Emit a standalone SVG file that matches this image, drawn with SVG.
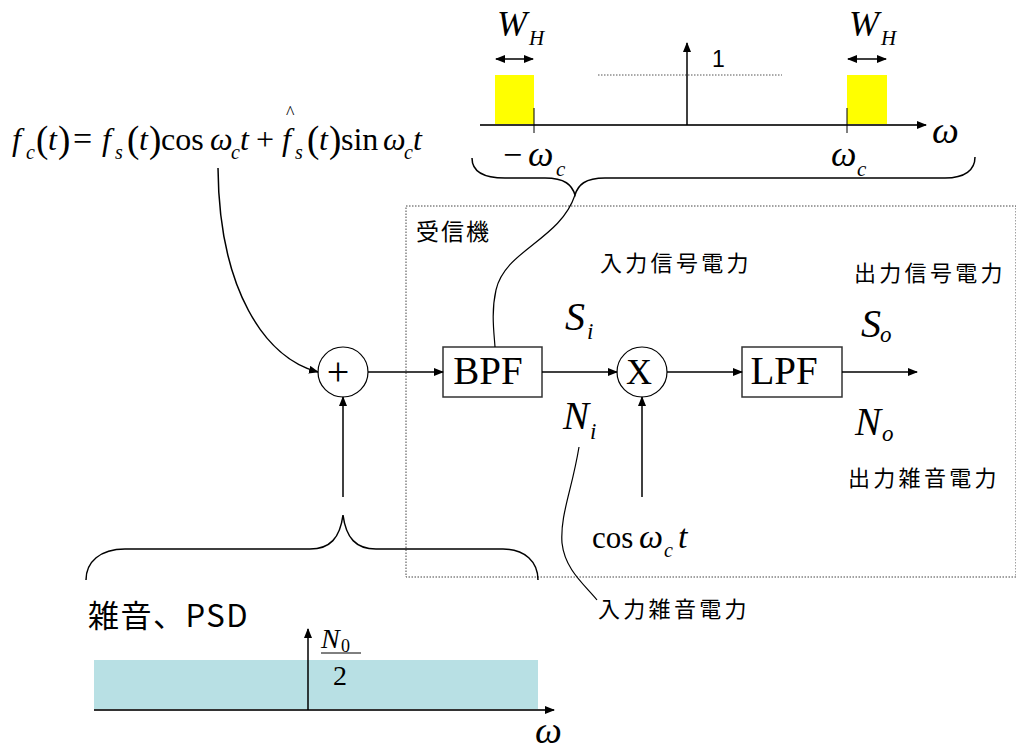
<svg xmlns="http://www.w3.org/2000/svg" width="1016" height="749" viewBox="0 0 1016 749">
<defs>
<marker id="ah" markerWidth="10" markerHeight="8" refX="9" refY="4" orient="auto" markerUnits="userSpaceOnUse">
<path d="M0,0 L10,4 L0,8 Z" fill="#000"/>
</marker>
<marker id="ahs" markerWidth="10" markerHeight="8" refX="1" refY="4" orient="auto" markerUnits="userSpaceOnUse">
<path d="M10,0 L0,4 L10,8 Z" fill="#000"/>
</marker>
<style>
.ln{stroke:#000;stroke-width:1.5;fill:none}
.ax{stroke:#333;stroke-width:2;fill:none}
.box{fill:#fff;stroke:#333;stroke-width:1.5}
.m{font-family:"Liberation Serif","Times New Roman",serif;fill:#000}
.i{font-style:italic}
.j{font-family:"Noto Sans CJK JP","Noto Sans",sans-serif;fill:#000}
.s{font-family:"Liberation Sans",Arial,sans-serif;fill:#000}
</style>
</defs>
<rect width="1016" height="749" fill="#fff"/>

<!-- receiver dashed frame -->
<g id="receiver">
<rect x="406" y="206" width="610" height="371" fill="none" stroke="#444" stroke-width="1" stroke-dasharray="1.5,1.5"/>
<text class="j" x="416" y="240" font-size="23" letter-spacing="2">受信機</text>
</g>

<!-- top spectrum -->
<g id="bpf-spectrum">
<rect x="495" y="75" width="39" height="50" fill="#FFFF00"/>
<rect x="847" y="75" width="40" height="50" fill="#FFFF00"/>
<line x1="598" y1="75" x2="782" y2="75" stroke="#555" stroke-width="1" stroke-dasharray="1.5,1.5"/>
<line class="ax" x1="480" y1="125" x2="926" y2="125" marker-end="url(#ah)"/>
<line class="ln" x1="687" y1="125" x2="687" y2="43" marker-end="url(#ah)"/>
<line x1="534" y1="108" x2="534" y2="133" stroke="#000" stroke-width="1"/>
<line x1="847" y1="108" x2="847" y2="133" stroke="#000" stroke-width="1"/>
<line class="ln" x1="496" y1="59" x2="533" y2="59" marker-start="url(#ahs)" marker-end="url(#ah)"/>
<line class="ln" x1="848" y1="59" x2="886" y2="59" marker-start="url(#ahs)" marker-end="url(#ah)"/>
<text class="m i" x="497" y="36" font-size="36">W</text>
<text class="m i" x="529" y="45" font-size="21">H</text>
<text class="m i" x="849" y="36" font-size="36">W</text>
<text class="m i" x="881" y="45" font-size="21">H</text>
<text class="s" x="712" y="67" font-size="23">1</text>
<text class="m" x="503" y="166" font-size="34">−</text>
<text class="m i" x="528" y="166" font-size="36">ω</text>
<text class="m i" x="556" y="176" font-size="21">c</text>
<text class="m i" x="831" y="166" font-size="36">ω</text>
<text class="m i" x="857" y="176" font-size="21">c</text>
<text class="m i" x="932" y="143" font-size="38">ω</text>
<path class="ln" d="M472,158 C472,172 485,178 505,178 L545,178 C565,178 572,185 575,195 C578,185 585,178 605,178 L945,178 C965,178 975,170 975,157"/>
</g>

<!-- formula -->
<g id="formula">
<text class="m" y="150" font-size="32"><tspan class="i" x="12">f</tspan><tspan x="102" class="i">f</tspan><tspan x="161">cos</tspan><tspan class="i" x="210">ω</tspan><tspan class="i" x="240">t</tspan><tspan x="256">+</tspan><tspan class="i" x="282">f</tspan><tspan x="341">sin</tspan><tspan class="i" x="383">ω</tspan><tspan class="i" x="413">t</tspan></text>
<text class="m" y="152" font-size="37"><tspan x="36">(</tspan><tspan x="58">)</tspan><tspan x="127">(</tspan><tspan x="149">)</tspan><tspan x="307">(</tspan><tspan x="329">)</tspan></text>
<text class="m i" y="150" font-size="32"><tspan x="48">t</tspan><tspan x="139">t</tspan><tspan x="319">t</tspan></text>
<text class="m" x="73" y="150" font-size="34">=</text>
<text class="m i" y="159" font-size="20"><tspan x="26">c</tspan><tspan x="115">s</tspan><tspan x="231">c</tspan><tspan x="295">s</tspan><tspan x="404">c</tspan></text>
<text class="m" x="286" y="119" font-size="18">^</text>
</g>

<!-- nodes -->
<g id="sum">
<circle cx="343" cy="372" r="25" fill="#fff" stroke="#000" stroke-width="1.2"/>
<text class="m" x="338" y="385" font-size="40" text-anchor="middle">+</text>
</g>
<g id="bpf">
<rect class="box" x="443" y="347" width="99" height="50"/>
<text class="m" x="488" y="384" font-size="39" text-anchor="middle">BPF</text>
</g>
<g id="mixer">
<circle cx="642" cy="372" r="25" fill="#fff" stroke="#000" stroke-width="1.2"/>
<text class="m" x="639" y="384" font-size="36" text-anchor="middle">X</text>
</g>
<g id="lpf">
<rect class="box" x="742" y="347" width="100" height="50"/>
<text class="m" x="784" y="384" font-size="39" text-anchor="middle">LPF</text>
</g>

<!-- connectors -->
<g id="connectors">
<line class="ln" x1="368" y1="372" x2="443" y2="372" marker-end="url(#ah)"/>
<line class="ln" x1="542" y1="372" x2="617" y2="372" marker-end="url(#ah)"/>
<line class="ln" x1="667" y1="372" x2="742" y2="372" marker-end="url(#ah)"/>
<line class="ln" x1="842" y1="372" x2="917" y2="372" marker-end="url(#ah)"/>
<line class="ln" x1="343" y1="497" x2="343" y2="397" marker-end="url(#ah)"/>
<line class="ln" x1="642" y1="497" x2="642" y2="397" marker-end="url(#ah)"/>
<path class="ln" d="M218,168 C219,290 265,358 318,372" marker-end="url(#ah)"/>
<path d="M575,195 C560,240 505,250 496,290 C491,312 494,332 495,347" fill="none" stroke="#000" stroke-width="1.2"/>
<path d="M579,447 C572,490 560,515 562,543 C565,570 585,585 597,600" fill="none" stroke="#000" stroke-width="1.2"/>
</g>

<!-- labels -->
<g id="labels">
<text class="j" x="600" y="271" font-size="22" letter-spacing="3.3">入力信号電力</text>
<text class="j" x="854" y="281" font-size="22" letter-spacing="3.3">出力信号電力</text>
<text class="j" x="848" y="486" font-size="22" letter-spacing="3.3">出力雑音電力</text>
<text class="j" x="598" y="617" font-size="22" letter-spacing="3.3">入力雑音電力</text>
<text class="m i" x="565" y="330" font-size="40">S</text>
<text class="m i" x="587" y="339" font-size="23">i</text>
<text class="m i" x="861" y="337" font-size="40">S</text>
<text class="m i" x="880" y="342" font-size="23">o</text>
<text class="m i" x="563" y="429" font-size="39">N</text>
<text class="m i" x="590" y="439" font-size="23">i</text>
<text class="m i" x="855" y="435" font-size="39">N</text>
<text class="m i" x="882" y="441" font-size="23">o</text>
<text class="m" x="592" y="548" font-size="31">cos</text>
<text class="m i" x="639" y="548" font-size="34">ω</text>
<text class="m i" x="664" y="557" font-size="20">c</text>
<text class="m i" x="678" y="548" font-size="34">t</text>
</g>

<!-- noise PSD -->
<g id="noise-psd">
<path class="ln" d="M86,580 C86,562 100,549 125,549 L310,549 C330,549 340,538 343,515 C346,538 356,549 376,549 L503,549 C525,549 538,562 538,580"/>
<text class="j" x="88" y="627" font-size="31" letter-spacing="1.5">雑音、PSD</text>
<rect x="94" y="660" width="444" height="50" fill="#B8E0E4"/>
<line class="ax" x1="94" y1="710" x2="554" y2="710" marker-end="url(#ah)"/>
<line class="ln" x1="308" y1="710" x2="308" y2="629" marker-end="url(#ah)"/>
<text class="m i" x="321" y="648" font-size="28">N</text>
<text class="m" x="341" y="652" font-size="18">0</text>
<line x1="321" y1="653" x2="361" y2="653" stroke="#000" stroke-width="1"/>
<text class="m" x="333" y="685" font-size="28">2</text>
<text class="m i" x="535" y="743" font-size="38">ω</text>
</g>
</svg>
